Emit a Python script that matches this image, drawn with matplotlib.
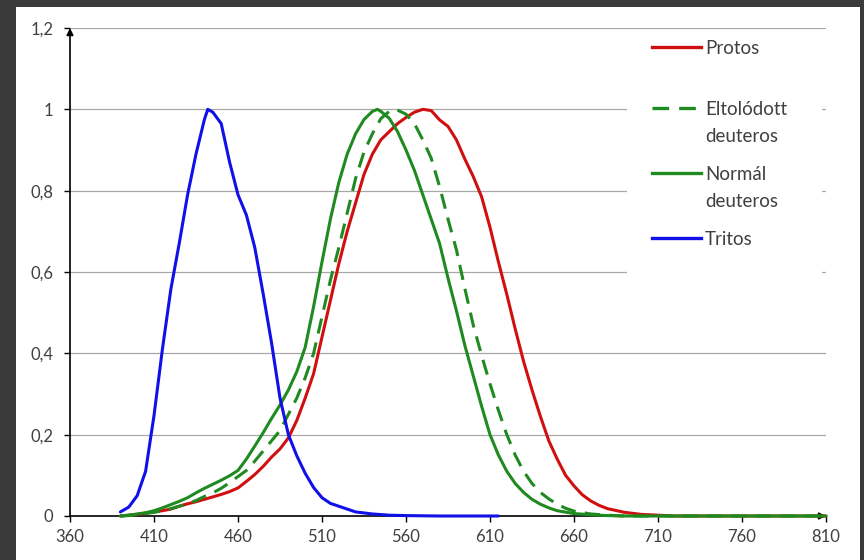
import matplotlib
matplotlib.use("Agg")
import matplotlib.pyplot as plt
from matplotlib.patches import Rectangle
from matplotlib.lines import Line2D

# ---------------- data ----------------
x_ticks = [360, 410, 460, 510, 560, 610, 660, 710, 760, 810]
y_ticks = [0, 0.2, 0.4, 0.6, 0.8, 1.0, 1.2]
y_tick_labels = ["0", "0,2", "0,4", "0,6", "0,8", "1", "1,2"]

tritos_nm = [390, 395, 400, 405, 410, 415, 420, 425, 430, 435, 440, 442, 445, 450,
             455, 460, 465, 470, 475, 480, 485, 490, 495, 500, 505, 510, 515, 520,
             525, 530, 540, 550, 560, 580, 600, 615]
tritos = [0.01, 0.022, 0.05, 0.11, 0.247, 0.41, 0.557, 0.67, 0.79, 0.89, 0.975, 1.0,
          0.993, 0.965, 0.87, 0.79, 0.74, 0.66, 0.546, 0.425, 0.29, 0.20, 0.148,
          0.105, 0.07, 0.045, 0.031, 0.024, 0.017, 0.01, 0.005, 0.002, 0.001, 0, 0, 0]

protos_nm = [390, 395, 400, 405, 410, 415, 420, 425, 430, 435, 440, 445, 450, 455,
             460, 465, 470, 475, 480, 485, 490, 495, 500, 505, 510, 515, 520, 525,
             530, 535, 540, 545, 550, 555, 560, 565, 570, 575, 580, 585, 590, 595,
             600, 605, 610, 615, 620, 625, 630, 635, 640, 645, 650, 655, 660, 665,
             670, 675, 680, 690, 700, 710, 720, 810]
protos = [0, 0.002, 0.004, 0.007, 0.01, 0.013, 0.017, 0.024, 0.03, 0.035, 0.041,
          0.047, 0.053, 0.06, 0.069, 0.085, 0.102, 0.122, 0.145, 0.165, 0.192,
          0.235, 0.29, 0.35, 0.44, 0.53, 0.62, 0.70, 0.77, 0.84, 0.89, 0.925,
          0.945, 0.965, 0.98, 0.993, 1.0, 0.997, 0.974, 0.958, 0.925, 0.878, 0.835,
          0.785, 0.71, 0.625, 0.545, 0.46, 0.38, 0.31, 0.245, 0.185, 0.14, 0.1,
          0.074, 0.052, 0.037, 0.026, 0.018, 0.009, 0.004, 0.002, 0, 0]

eltolodott_nm = [390, 395, 400, 405, 410, 415, 420, 425, 430, 435, 440, 445, 450,
                 455, 460, 465, 470, 475, 480, 485, 490, 495, 500, 505, 510, 515,
                 520, 525, 530, 535, 540, 545, 550, 553, 555, 560, 565, 570, 575,
                 580, 585, 590, 595, 600, 605, 610, 615, 620, 625, 630, 635, 640,
                 645, 650, 655, 660, 670, 680, 690, 810]
eltolodott = [0, 0.001, 0.003, 0.006, 0.009, 0.013, 0.018, 0.024, 0.03, 0.038,
              0.048, 0.057, 0.068, 0.082, 0.097, 0.112, 0.135, 0.16, 0.185, 0.21,
              0.25, 0.29, 0.34, 0.40, 0.49, 0.58, 0.66, 0.745, 0.83, 0.895, 0.94,
              0.977, 0.995, 1.0, 0.998, 0.988, 0.965, 0.925, 0.88, 0.81, 0.73,
              0.655, 0.56, 0.47, 0.395, 0.325, 0.26, 0.2, 0.15, 0.11, 0.08, 0.058,
              0.042, 0.029, 0.019, 0.012, 0.005, 0.002, 0, 0]

normal_nm = [390, 395, 400, 405, 410, 415, 420, 425, 430, 435, 440, 445, 450, 455,
             460, 465, 470, 475, 480, 485, 490, 495, 500, 505, 510, 515, 520, 525,
             530, 535, 540, 543, 545, 550, 555, 560, 565, 570, 575, 580, 585, 590,
             595, 600, 605, 610, 615, 620, 625, 630, 635, 640, 645, 650, 660, 670,
             680, 690, 810]
normal = [0, 0.002, 0.005, 0.008, 0.013, 0.02, 0.028, 0.036, 0.045, 0.057, 0.068,
          0.078, 0.088, 0.099, 0.112, 0.14, 0.172, 0.205, 0.24, 0.273, 0.31, 0.355,
          0.415, 0.515, 0.625, 0.73, 0.82, 0.89, 0.94, 0.975, 0.995, 1.0, 0.995,
          0.978, 0.945, 0.9, 0.85, 0.79, 0.73, 0.67, 0.585, 0.505, 0.42, 0.345,
          0.27, 0.2, 0.15, 0.11, 0.08, 0.058, 0.041, 0.029, 0.02, 0.013, 0.006,
          0.003, 0.001, 0, 0]

legend_labels = [["Protos"], ["Eltolódott", "deuteros"], ["Normál", "deuteros"],
                 ["Tritos"]]

# ---------------- style ----------------
RED = "#d01010"
GREEN = "#1f8a1f"
BLUE = "#1010e8"
LW = 2.2
DASH = (0, (5, 3))
TXT = "#404040"
plt.rcParams["font.family"] = ["Lato", "DejaVu Sans"]

fig = plt.figure(figsize=(8.64, 5.6), dpi=100)
fig.patch.set_facecolor("#3a3a3a")
bg = Rectangle((16 / 864, 0), (860 - 16) / 864, (560 - 7) / 560,
               transform=fig.transFigure, facecolor="white", edgecolor="none")
bg.set_zorder(-10)
fig.add_artist(bg)

ax = fig.add_axes([70 / 864, 44 / 560, 756 / 864, 488 / 560])
ax.set_zorder(5)
ax.set_facecolor("none")
ax.set_xlim(360, 810)
ax.set_ylim(0, 1.2)

for yv in y_ticks[1:]:
    ax.axhline(yv, color="#a8a8a8", lw=0.9, zorder=1)

series = [
    (protos_nm, protos, RED, "-"),
    (eltolodott_nm, eltolodott, GREEN, DASH),
    (normal_nm, normal, GREEN, "-"),
    (tritos_nm, tritos, BLUE, "-"),
]
for i, (xs, ys, c, ls) in enumerate(series):
    ax.plot(xs, ys, color=c, lw=LW, ls=ls, solid_joinstyle="round",
            solid_capstyle="round", zorder=3 + i, clip_on=False)

for s in ax.spines.values():
    s.set_visible(False)

# axis lines with arrows
ax.annotate("", xy=(1.0, 0), xytext=(0, 0), xycoords="axes fraction",
            arrowprops=dict(arrowstyle="-|>", color="black", lw=1.2,
                            mutation_scale=10, shrinkA=0, shrinkB=0), zorder=2)
ax.annotate("", xy=(0, 1.0), xytext=(0, 0), xycoords="axes fraction",
            arrowprops=dict(arrowstyle="-|>", color="black", lw=1.2,
                            mutation_scale=10, shrinkA=0, shrinkB=0), zorder=2)

ax.set_xticks(x_ticks)
ax.set_xticklabels([str(v) for v in x_ticks])
ax.set_yticks(y_ticks)
ax.set_yticklabels(y_tick_labels)
ax.tick_params(axis="both", direction="out", length=4, width=1.0, color="black",
               labelsize=12, labelcolor=TXT)
ax.tick_params(axis="y", pad=8)
ax.tick_params(axis="x", pad=5)

# legend (drawn as a white box with handles)
ax.add_patch(Rectangle((557 / 756, 0.455), (752 - 557) / 756, 0.54,
                       transform=ax.transAxes, facecolor="white",
                       edgecolor="none", zorder=2))
handle_y = [0.961, 0.836, 0.703, 0.570]
line_step = 27 / 488
x0, x1, xt = 0.770, 0.835, 0.840
styles = [(RED, "-"), (GREEN, DASH), (GREEN, "-"), (BLUE, "-")]
for (c, ls), hy, lines in zip(styles, handle_y, legend_labels):
    ax.add_line(Line2D([x0, x1], [hy, hy], transform=ax.transAxes, color=c,
                       lw=LW + 0.2, ls=ls, zorder=8))
    for k, txt in enumerate(lines):
        ax.text(xt, hy - 0.004 - k * line_step, txt, transform=ax.transAxes,
                fontsize=13.5, color=TXT, ha="left", va="center", zorder=8)

fig.savefig("out.png", dpi=100, facecolor=fig.get_facecolor())
